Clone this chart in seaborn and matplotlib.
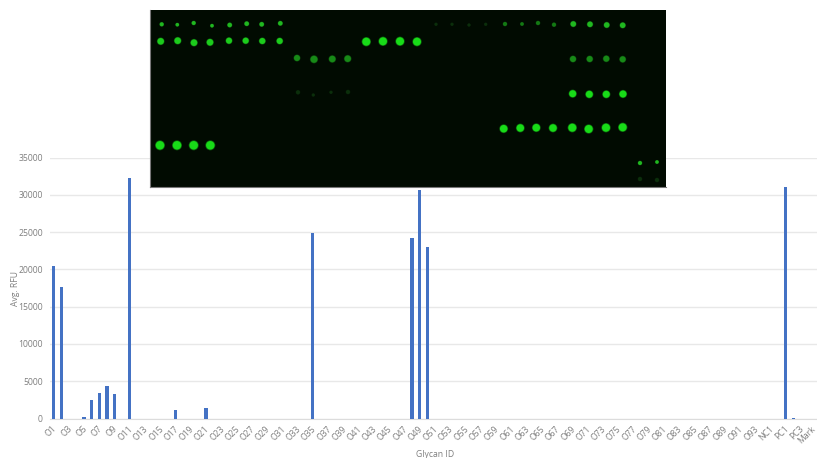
import pandas as pd
import seaborn as sns
import matplotlib.pyplot as plt
from matplotlib.transforms import ScaledTranslation

W, H = 817, 458

# bar chart data
glycan_ids = [f'O{i}' for i in range(1, 95)] + ['NC1', 'NC2', 'PC1', 'PC2', 'PC3', 'PC4', 'Mark']
hit_ids = ['O1', 'O2', 'O5', 'O6', 'O7', 'O8', 'O9', 'O11', 'O17', 'O21', 'O35', 'O48', 'O49', 'O50', 'PC1', 'PC2']
hit_rfu = [20400, 17600, 200, 2500, 3400, 4400, 3300, 32200, 1100, 1400, 24900, 24200, 30700, 23000, 31000, 100]
y_ticks = [0, 5000, 10000, 15000, 20000, 25000, 30000, 35000]

# array scan spots, in pixels of the scan picture
big_x = [10, 27, 43.7, 60.3, 216.3, 233, 250, 267, 422.7, 439.3, 456.3, 473,
         353.7, 370.3, 386.3, 403, 422.3, 438.7, 456, 472.7]
big_y = [135.3, 135.3, 135.3, 135.3, 31.7, 31.3, 31.3, 31.7, 83.7, 84.3, 84.3, 84,
         118.7, 118, 117.7, 118, 117.7, 119, 117.7, 117.3]
big_d = [8.5, 8.5, 8.5, 8.5, 8, 8, 8, 8, 7, 7, 7, 7, 7.5, 7.5, 7.5, 7.5, 8, 8, 8, 8]

row2_x = [10.7, 27.7, 44, 60, 79, 95.7, 112.3, 129.7]
row2_y = [31.3, 30.7, 32.7, 32.3, 30.7, 30.7, 31, 31]
row2_d = [6.5, 6.5, 6.5, 6.5, 6, 6, 6, 6]

small_x = [11.7, 27.3, 43.7, 62, 79.7, 96.7, 111.7, 130.3, 423.3, 440, 456.7, 472.7, 490, 507]
small_y = [14.3, 14.7, 13, 15.7, 15, 13.7, 14.3, 13.3, 14, 14.3, 15, 15.3, 153, 152]
small_d = [4, 3.5, 4, 3.5, 4.5, 4.5, 4.5, 4.5, 5.5, 5.5, 5.5, 5.5, 4, 3.5]

dim_x = [355, 372, 388, 404]
dim_y = [14, 14, 13, 14.7]
dim_d = [4, 3.5, 4, 4]

ring_x = [147, 164, 182.3, 197.7, 423, 439.7, 456.3, 472.7]
ring_y = [48, 49.3, 49, 48.7, 49, 49, 48.7, 49.3]
ring_d = [6, 7, 6.5, 6.5, 6, 6, 6, 6]

faint_x = [148, 163.3, 181, 198, 286, 302, 319, 335.7, 490, 507]
faint_y = [82.3, 85, 82.3, 82, 14.3, 14.3, 15, 14.3, 169, 170]
faint_d = [4, 3, 3, 4, 3, 3, 3, 3, 4, 4]

plt.rcParams['font.family'] = ['Open Sans', 'DejaVu Sans']
fig = plt.figure(figsize=(W / 100, H / 100), dpi=100)
ax = fig.add_axes([49.7 / W, 1 - 418.5 / H, 770.3 / W, 261 / H])

rfu = pd.Series(hit_rfu, index=hit_ids).reindex(glycan_ids, fill_value=0)
data = pd.DataFrame({'Glycan ID': glycan_ids, 'Avg. RFU': rfu.values})
sns.barplot(data=data, x='Glycan ID', y='Avg. RFU', color='#4472C4', saturation=1, width=0.42, ax=ax, zorder=3)

ax.set_xlim(-0.5, 100.5)
ax.set_ylim(0, 35000)
ax.set_yticks(y_ticks)
ax.set_xticks(range(0, len(glycan_ids), 2))
ax.set_xticklabels(glycan_ids[::2], rotation=45, ha='right', rotation_mode='anchor', fontsize=6.2, color='#7f7f7f')
ax.tick_params(axis='y', labelsize=6.2, labelcolor='#7f7f7f', length=0, pad=5)
ax.tick_params(axis='x', length=0, pad=4)
for label in ax.get_xticklabels():
    # Mark sits right at the picture edge, so it gets pulled in a bit more
    dx = -4 if label.get_text() == 'Mark' else -1
    label.set_transform(label.get_transform() + ScaledTranslation(dx / 72, 0, fig.dpi_scale_trans))
ax.grid(axis='y', color='#e8e8e8', linewidth=1, zorder=0)
ax.set_axisbelow(True)
for side in ['top', 'right', 'left']:
    ax.spines[side].set_visible(False)
ax.spines['bottom'].set_color('#dcdcdc')
ax.set_ylabel('')
ax.set_xlabel('')
fig.text(15.5 / W, 1 - 288 / H, 'Avg. RFU', rotation=90, ha='center', va='center', fontsize=6.2, color='#7f7f7f')
fig.text(435 / W, 1 - 454.5 / H, 'Glycan ID', ha='center', va='center', fontsize=6.2, color='#7f7f7f')

# scan picture laid over the top of the chart
scan = fig.add_axes([150 / W, 1 - 187 / H, 516 / W, 177 / H], zorder=5)
scan.set_facecolor('#010b01')
scan.set_xlim(0, 516)
scan.set_ylim(177, 0)
scan.set_xticks([])
scan.set_yticks([])
for side in scan.spines:
    scan.spines[side].set_visible(False)
scan.spines['left'].set_visible(True)
scan.spines['left'].set_color('#777777')
scan.spines['bottom'].set_visible(True)
scan.spines['bottom'].set_color('#777777')


def spots(xs, ys, ds, color, glow):
    sizes = [(d * 0.72) ** 2 for d in ds]
    sns.scatterplot(x=xs, y=ys, s=[s * 1.4 for s in sizes], color=glow, linewidth=0, ax=scan, legend=False)
    sns.scatterplot(x=xs, y=ys, s=sizes, color=color, linewidth=0, ax=scan, legend=False)


spots(faint_x, faint_y, faint_d, '#0b2f0b', '#071c07')
spots(dim_x, dim_y, dim_d, '#137a13', '#0a3a0a')
spots(ring_x, ring_y, ring_d, '#178a17', '#0b3f0b')
spots(small_x, small_y, small_d, '#20b820', '#0c4a0c')
spots(row2_x, row2_y, row2_d, '#1ccc1c', '#0c5a0c')
spots(big_x, big_y, big_d, '#18dc18', '#0b5f0b')

fig.savefig('out.png', dpi=100)
